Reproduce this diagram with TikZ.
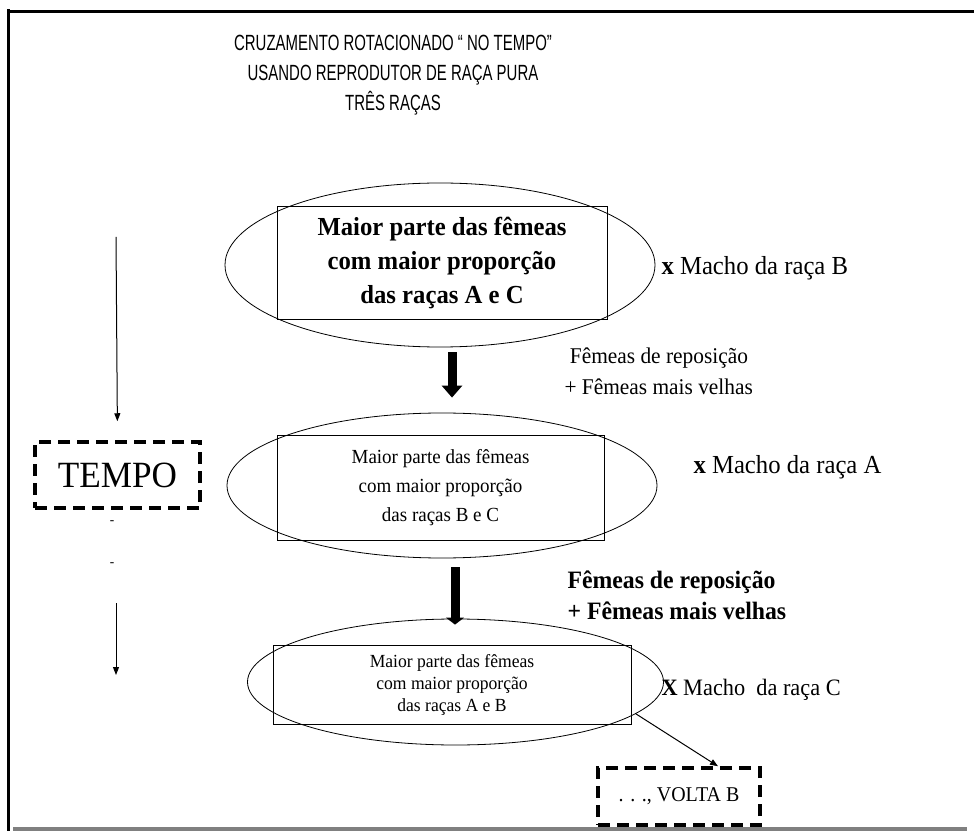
\documentclass[tikz,border=0pt]{standalone}
\usepackage{fontspec}
\setmainfont{Liberation Serif}[FakeStretch=0.95]
\newfontfamily\rctitlefont{Liberation Sans}[FakeStretch=0.68]
\usepackage{tikz}
\usetikzlibrary{arrows.meta,positioning,shapes.geometric}
\newcommand{\rcsize}[2]{\fontsize{#1}{#2}\selectfont}
\tikzset{
  rc diagram/.style={x=1pt,y=1pt},
  rc ellipse/.style={draw, ellipse, line width=0.8pt, inner sep=0pt},
  rc box/.style={draw, line width=1pt, align=center, inner sep=0pt},
  rc fat arrow/.style={-{Triangle[width=20pt,length=12pt]}, line width=9pt},
  rc thin arrow/.style={-{Triangle[width=6pt,length=8pt]}, line width=1pt},
  rc dashed box/.style={draw, line width=3.5pt, dash pattern=on 12pt off 7pt,
    inner sep=0pt},
  rc label/.style={anchor=west, align=left}
}
\begin{document}
\begin{tikzpicture}[rc diagram]
\useasboundingbox (0,0) rectangle (974,831);
% frame
\fill[black] (7,0) rectangle (10,822);
\fill[black] (7,818) rectangle (974,821);
\fill[black!50] (13,0) rectangle (967,4);
% title
\node[font=\rctitlefont\rcsize{22}{30}, align=center] (title) at (393,756)
  {CRUZAMENTO ROTACIONADO “ NO TEMPO”\\USANDO REPRODUTOR DE RAÇA PURA\\TRÊS RAÇAS};
% first generation
\node[rc ellipse, minimum width=430, minimum height=164] (e1) at (440,566) {};
\node[rc box, minimum width=330, minimum height=113,
  font=\bfseries\rcsize{26}{34}] (b1) at (442,567.5)
  {Maior parte das fêmeas\\com maior proporção\\das raças A e C};
\node[rc label, font=\rcsize{26}{30}] (m1) at (658,563) {\textbf{x} Macho da raça B};
% second generation
\node[rc ellipse, minimum width=430, minimum height=145] (e2) at (442,345.5) {};
\node[rc box, minimum width=327, minimum height=105,
  font=\rcsize{20}{29}] (b2) at (440.5,343.5)
  {Maior parte das fêmeas\\com maior proporção\\das raças B e C};
\node[rc label, font=\rcsize{26}{30}] (m2) at (690,364) {\textbf{x} Macho da raça A};
% third generation
\node[rc ellipse, minimum width=416, minimum height=126] (e3) at (455.5,149) {};
\node[rc box, minimum width=358, minimum height=79,
  font=\rcsize{18.5}{22}] (b3) at (452,146.5)
  {Maior parte das fêmeas\\com maior proporção\\das raças A e B};
\node[rc label, font=\rcsize{23.5}{28}] (m3) at (658,141) {\textbf{X} Macho \ da raça C};
% replacement
\node[rc label, font=\rcsize{22.5}{31}] (r1) at (561,460)
  {\ Fêmeas de reposição\\+ Fêmeas mais velhas};
\node[rc label, font=\bfseries\rcsize{25}{31}] (r2) at (564,235.5)
  {Fêmeas de reposição\\+ Fêmeas mais velhas};
\draw[rc fat arrow] ([xshift=12pt,yshift=-5pt]e1.south) -- ([xshift=10pt,yshift=15pt]e2.north);
\draw[rc fat arrow, -{Triangle[width=18pt,length=7pt]}]
  ([xshift=13pt,yshift=-9pt]e2.south) -- ([xshift=-0.5pt,yshift=-6pt]e3.north);
% time axis
\node[rc dashed box, minimum width=165, minimum height=66,
  font=\rcsize{37}{40}] (tempo) at (117.5,356) {TEMPO};
\coordinate (t0) at (116,594);
\coordinate (t1) at (116,228);
\coordinate (t2) at (116,156);
\node[font=\rcsize{14}{16}] (d1) at (112,308) {-};
\node[font=\rcsize{14}{16}] (d2) at (112,266) {-};
\draw[rc thin arrow, shorten >=19pt] (t0) -- (tempo.north);
\draw[rc thin arrow] (t1) -- (t2);
% back to B
\node[rc dashed box, minimum width=162, minimum height=57,
  font=\rcsize{21}{26}] (volta) at (679,34.5) {. . ., VOLTA B};
\draw[rc thin arrow] (e3.-10) -- ([xshift=39pt]volta.north);
\end{tikzpicture}
\end{document}
